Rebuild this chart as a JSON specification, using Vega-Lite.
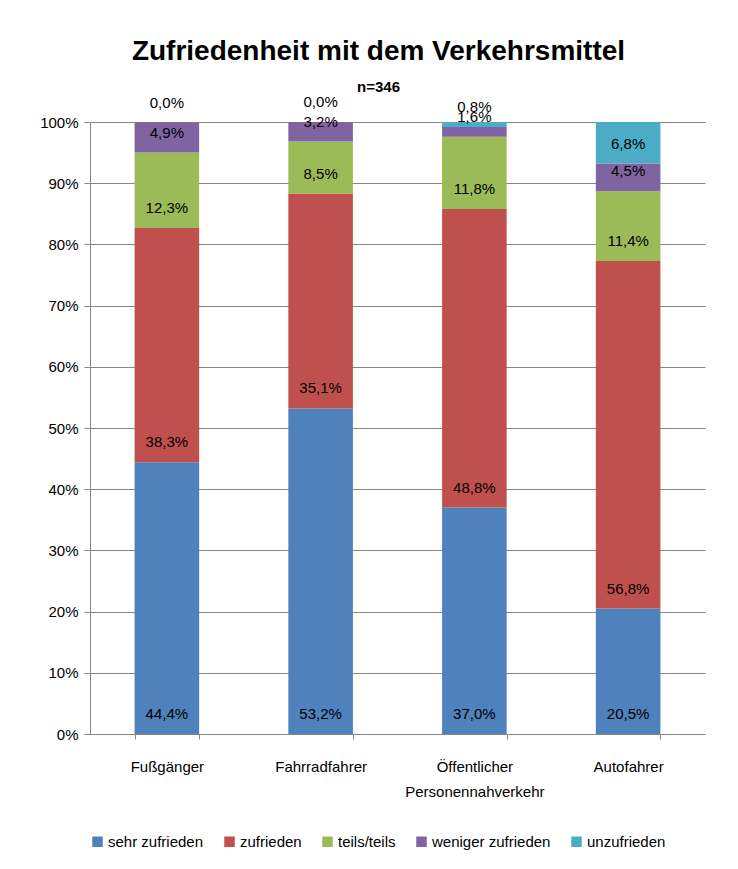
{
  "$schema": "https://vega.github.io/schema/vega-lite/v6.json",
  "autosize": {"type": "none"},
  "width": 615,
  "height": 612,
  "padding": {"left": 90, "top": 122, "right": 33, "bottom": 135},
  "background": "white",
  "config": {
    "font": "Liberation Sans",
    "locale": {"number": {"decimal": ",", "thousands": ".", "grouping": [3], "currency": ["", " €"]}},
    "view": {"stroke": null}
  },
  "title": {
    "text": "Zufriedenheit mit dem Verkehrsmittel",
    "subtitle": "n=346",
    "fontSize": 28,
    "fontWeight": "bold",
    "font": "Liberation Sans",
    "color": "#000000",
    "subtitleFontSize": 15,
    "subtitleFontWeight": "bold",
    "subtitleFont": "Liberation Sans",
    "subtitleColor": "#000000",
    "subtitlePadding": 14,
    "anchor": "middle",
    "dx": -19,
    "offset": 0
  },
  "data": {
    "values": [
      {"cat": "Fußgänger", "grp": "sehr zufrieden", "o": 1, "v": 0.444},
      {"cat": "Fußgänger", "grp": "zufrieden", "o": 2, "v": 0.383},
      {"cat": "Fußgänger", "grp": "teils/teils", "o": 3, "v": 0.123},
      {"cat": "Fußgänger", "grp": "weniger zufrieden", "o": 4, "v": 0.049},
      {"cat": "Fußgänger", "grp": "unzufrieden", "o": 5, "v": 0.0},
      {"cat": "Fahrradfahrer", "grp": "sehr zufrieden", "o": 1, "v": 0.532},
      {"cat": "Fahrradfahrer", "grp": "zufrieden", "o": 2, "v": 0.351},
      {"cat": "Fahrradfahrer", "grp": "teils/teils", "o": 3, "v": 0.085},
      {"cat": "Fahrradfahrer", "grp": "weniger zufrieden", "o": 4, "v": 0.032},
      {"cat": "Fahrradfahrer", "grp": "unzufrieden", "o": 5, "v": 0.0},
      {"cat": "Öffentlicher Personennahverkehr", "grp": "sehr zufrieden", "o": 1, "v": 0.370},
      {"cat": "Öffentlicher Personennahverkehr", "grp": "zufrieden", "o": 2, "v": 0.488},
      {"cat": "Öffentlicher Personennahverkehr", "grp": "teils/teils", "o": 3, "v": 0.118},
      {"cat": "Öffentlicher Personennahverkehr", "grp": "weniger zufrieden", "o": 4, "v": 0.016},
      {"cat": "Öffentlicher Personennahverkehr", "grp": "unzufrieden", "o": 5, "v": 0.008},
      {"cat": "Autofahrer", "grp": "sehr zufrieden", "o": 1, "v": 0.205},
      {"cat": "Autofahrer", "grp": "zufrieden", "o": 2, "v": 0.568},
      {"cat": "Autofahrer", "grp": "teils/teils", "o": 3, "v": 0.114},
      {"cat": "Autofahrer", "grp": "weniger zufrieden", "o": 4, "v": 0.045},
      {"cat": "Autofahrer", "grp": "unzufrieden", "o": 5, "v": 0.068}
    ]
  },
  "transform": [
    {"stack": "v", "groupby": ["cat"], "sort": [{"field": "o", "order": "ascending"}], "as": ["y0", "y1"]}
  ],
  "encoding": {
    "x": {
      "field": "cat",
      "type": "nominal",
      "sort": ["Fußgänger", "Fahrradfahrer", "Öffentlicher Personennahverkehr", "Autofahrer"],
      "title": null,
      "scale": {"paddingInner": 0.58, "paddingOuter": 0.29},
      "axis": {
        "labelAngle": 0,
        "labelFontSize": 15,
        "labelColor": "#000000",
        "labelPadding": 20,
        "labelLineHeight": 25,
        "labelExpr": "datum.value == 'Öffentlicher Personennahverkehr' ? ['Öffentlicher', 'Personennahverkehr'] : datum.value",
        "tickBand": "extent",
        "tickColor": "#868686",
        "domainColor": "#868686",
        "tickSize": 5
      }
    }
  },
  "layer": [
    {
      "mark": {"type": "bar"},
      "encoding": {
        "y": {
          "field": "y0",
          "type": "quantitative",
          "scale": {"domain": [0, 1]},
          "title": null,
          "axis": {
            "format": ".0%",
            "values": [0, 0.1, 0.2, 0.3, 0.4, 0.5, 0.6, 0.7, 0.8, 0.9, 1.0],
            "labelFontSize": 15,
            "labelColor": "#000000",
            "labelPadding": 6,
            "gridColor": "#868686",
            "gridWidth": 1,
            "domainColor": "#868686",
            "tickColor": "#868686",
            "tickSize": 6
          }
        },
        "y2": {"field": "y1"},
        "color": {
          "field": "grp",
          "type": "nominal",
          "scale": {
            "domain": ["sehr zufrieden", "zufrieden", "teils/teils", "weniger zufrieden", "unzufrieden"],
            "range": ["#4F81BD", "#C0504D", "#9BBB59", "#8064A2", "#4BACC6"]
          },
          "legend": {
            "title": null,
            "orient": "bottom",
            "direction": "horizontal",
            "symbolType": "square",
            "symbolSize": 110,
            "symbolStrokeWidth": 0,
            "symbolOffset": 0,
            "labelOffset": 3,
            "labelFontSize": 15,
            "labelColor": "#000000",
            "columnPadding": 18,
            "offset": 35
          }
        }
      }
    },
    {
      "mark": {"type": "text", "fontSize": 15, "color": "#000000", "dy": -20, "baseline": "middle"},
      "encoding": {
        "y": {"field": "y0", "type": "quantitative"},
        "text": {"field": "v", "type": "quantitative", "format": ".1%"}
      }
    }
  ]
}
